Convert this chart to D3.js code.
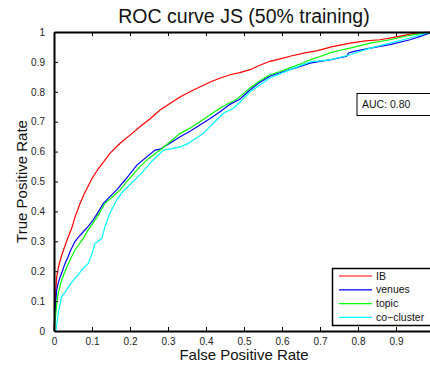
<!DOCTYPE html>
<html>
<head>
<meta charset="utf-8">
<script src="https://cdn.jsdelivr.net/npm/d3@7"></script>
<style>
body { margin: 0; background: #fff; }
svg { display: block; font-family: "Liberation Sans", Arial, sans-serif; }
</style>
</head>
<body>
<div class="roc"></div>
<script>
// data: [false positive rate, true positive rate]
var ibPoints = [[0,0],[0.002,0.06],[0.004,0.12],[0.007,0.18],[0.012,0.215],[0.016,0.235],[0.022,0.26],[0.029,0.285],[0.036,0.31],[0.047,0.345],[0.055,0.38],[0.068,0.425],[0.08,0.46],[0.09,0.485],[0.1,0.51],[0.115,0.54],[0.13,0.565],[0.147,0.594],[0.174,0.628],[0.2,0.655],[0.226,0.683],[0.253,0.71],[0.279,0.739],[0.305,0.761],[0.335,0.785],[0.367,0.806],[0.4,0.826],[0.419,0.837],[0.44,0.847],[0.463,0.857],[0.489,0.864],[0.516,0.874],[0.54,0.888],[0.568,0.902],[0.595,0.91],[0.621,0.919],[0.66,0.93],[0.691,0.937],[0.73,0.95],[0.779,0.963],[0.82,0.97],[0.858,0.974],[0.89,0.981],[0.911,0.986],[0.954,0.997],[0.99,1],[1,1]];
var venuesPoints = [[0,0],[0.001,0.015],[0.003,0.07],[0.007,0.137],[0.011,0.16],[0.016,0.18],[0.022,0.2],[0.029,0.226],[0.036,0.245],[0.042,0.265],[0.055,0.299],[0.065,0.315],[0.077,0.332],[0.09,0.35],[0.103,0.371],[0.115,0.395],[0.13,0.427],[0.148,0.45],[0.165,0.472],[0.187,0.505],[0.218,0.555],[0.266,0.605],[0.279,0.608],[0.305,0.628],[0.332,0.65],[0.36,0.67],[0.384,0.689],[0.41,0.71],[0.437,0.733],[0.463,0.758],[0.489,0.775],[0.516,0.807],[0.54,0.83],[0.568,0.852],[0.59,0.862],[0.621,0.874],[0.65,0.886],[0.674,0.896],[0.7,0.902],[0.726,0.907],[0.77,0.919],[0.775,0.93],[0.79,0.935],[0.832,0.946],[0.884,0.958],[0.937,0.974],[0.97,0.988],[0.99,0.997],[1,1]];
var topicPoints = [[0,0],[0.002,0.02],[0.003,0.037],[0.007,0.09],[0.011,0.126],[0.02,0.17],[0.029,0.2],[0.038,0.226],[0.047,0.25],[0.055,0.271],[0.066,0.29],[0.077,0.31],[0.09,0.338],[0.108,0.371],[0.12,0.395],[0.134,0.427],[0.155,0.45],[0.174,0.472],[0.191,0.499],[0.226,0.55],[0.25,0.578],[0.279,0.605],[0.305,0.632],[0.332,0.661],[0.36,0.68],[0.384,0.7],[0.41,0.722],[0.437,0.745],[0.46,0.762],[0.481,0.775],[0.516,0.813],[0.54,0.835],[0.568,0.857],[0.595,0.868],[0.621,0.88],[0.65,0.894],[0.674,0.907],[0.7,0.918],[0.726,0.93],[0.75,0.938],[0.779,0.946],[0.832,0.963],[0.884,0.974],[0.937,0.989],[0.97,0.995],[0.99,0.998],[1,1]];
var coclusterPoints = [[0,0],[0.005,0],[0.008,0.03],[0.011,0.059],[0.016,0.09],[0.02,0.115],[0.033,0.137],[0.042,0.155],[0.051,0.17],[0.062,0.185],[0.073,0.204],[0.09,0.226],[0.099,0.254],[0.108,0.293],[0.126,0.31],[0.134,0.349],[0.147,0.394],[0.165,0.438],[0.18,0.465],[0.2,0.49],[0.226,0.522],[0.261,0.572],[0.288,0.605],[0.31,0.61],[0.332,0.616],[0.35,0.625],[0.367,0.639],[0.393,0.661],[0.419,0.695],[0.446,0.728],[0.472,0.745],[0.489,0.765],[0.516,0.8],[0.568,0.846],[0.621,0.874],[0.674,0.9],[0.726,0.907],[0.779,0.924],[0.832,0.946],[0.884,0.963],[0.937,0.98],[0.99,1],[1,1]];

var seriesNames = ["IB", "venues", "topic", "co\u2212cluster"];
var seriesColors = ["#ff0000", "#0000ff", "#00ff00", "#00ffff"];
var xTicks = [0, 0.1, 0.2, 0.3, 0.4, 0.5, 0.6, 0.7, 0.8, 0.9]; // 1 falls outside the picture
var yTicks = [0, 0.1, 0.2, 0.3, 0.4, 0.5, 0.6, 0.7, 0.8, 0.9, 1];
var aucText = "AUC: 0.80";

var w = 430, h = 369;
var plotLeft = 54, plotRight = 434, plotTop = 32, plotBottom = 331; // right edge is cut off by the picture

var svg = d3.select(".roc").append("svg")
    .attr("width", w)
    .attr("height", h);

var xScale = d3.scaleLinear().domain([0, 1]).range([plotLeft, plotRight]);
var yScale = d3.scaleLinear().domain([0, 1]).range([plotBottom, plotTop]);

var fmt = function(d) { return d == 0 || d == 1 ? d3.format("d")(d) : d3.format(".1f")(d); };

// curves
var line = d3.line()
    .x(function(d) { return xScale(d[0]); })
    .y(function(d) { return yScale(d[1]); });

var allSeries = [ibPoints, venuesPoints, topicPoints, coclusterPoints];
allSeries.forEach(function(pts, i) {
    svg.append("path")
        .datum(pts)
        .attr("d", line)
        .attr("fill", "none")
        .attr("stroke", seriesColors[i])
        .attr("stroke-width", 1.2);
});

// axes, matlab style: ticks inside the box
var xAxisB = d3.axisBottom(xScale).tickValues(xTicks).tickSizeInner(-4).tickSizeOuter(0).tickPadding(7).tickFormat(fmt);
var xAxisT = d3.axisTop(xScale).tickValues(xTicks).tickSizeInner(-4).tickSizeOuter(0).tickFormat("");
var yAxisL = d3.axisLeft(yScale).tickValues(yTicks).tickSizeInner(-4).tickSizeOuter(0).tickPadding(9).tickFormat(fmt);

[["bx", xAxisB, `translate(0,${plotBottom})`], ["tx", xAxisT, `translate(0,${plotTop})`], ["ly", yAxisL, `translate(${plotLeft},0)`]]
    .forEach(function(a) {
        var g = svg.append("g").attr("class", a[0]).attr("transform", a[2]).call(a[1]);
        g.select(".domain").attr("stroke", "#000").attr("stroke-width", 2);
        g.selectAll(".tick line").attr("stroke", "#000").attr("stroke-width", 1);
        g.selectAll(".tick text").attr("font-size", 10).attr("fill", "#222").attr("font-family", null);
    });

// title and labels
svg.append("text")
    .attr("x", (plotLeft + plotRight) / 2)
    .attr("y", 23)
    .attr("text-anchor", "middle")
    .attr("font-size", 19.5)
    .attr("fill", "#111")
    .text("ROC curve JS (50% training)");

svg.append("text")
    .attr("x", (plotLeft + plotRight) / 2)
    .attr("y", 360)
    .attr("text-anchor", "middle")
    .attr("font-size", 15)
    .attr("fill", "#111")
    .text("False Positive Rate");

svg.append("text")
    .attr("transform", `translate(27,${(plotTop + plotBottom) / 2}) rotate(-90)`)
    .attr("text-anchor", "middle")
    .attr("font-size", 15)
    .attr("fill", "#111")
    .text("True Positive Rate");

// AUC box
svg.append("rect")
    .attr("x", 357).attr("y", 93.5)
    .attr("width", 80).attr("height", 22)
    .attr("fill", "#fff").attr("stroke", "#000").attr("stroke-width", 1);
svg.append("text")
    .attr("x", 362).attr("y", 108)
    .attr("font-size", 10.5)
    .attr("fill", "#111")
    .text(aucText);

// legend
svg.append("rect")
    .attr("x", 332.5).attr("y", 268.5)
    .attr("width", 110).attr("height", 57)
    .attr("fill", "#fff").attr("stroke", "#000").attr("stroke-width", 1.5);

seriesNames.forEach(function(name, i) {
    var ly = 276 + i * 13.8;
    svg.append("line")
        .attr("x1", 339).attr("x2", 372)
        .attr("y1", ly).attr("y2", ly)
        .attr("stroke", seriesColors[i])
        .attr("stroke-width", 1.2);
    svg.append("text")
        .attr("x", 376).attr("y", ly + 3.5)
        .attr("font-size", 10.5)
        .attr("fill", "#111")
        .text(name);
});
</script>
</body>
</html>
